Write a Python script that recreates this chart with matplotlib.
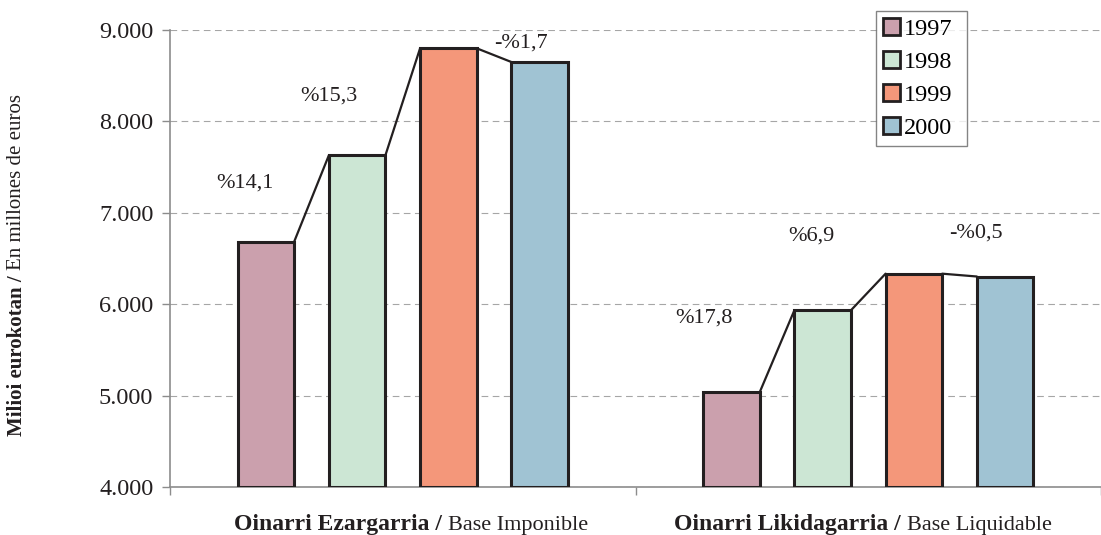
import numpy as np
import matplotlib
matplotlib.use("Agg")
import matplotlib.pyplot as plt
from matplotlib.patches import Patch

# Data
years = ["1997", "1998", "1999", "2000"]
groups_bold = ["Oinarri Ezargarria", "Oinarri Likidagarria"]
groups_norm = ["Base Imponible", "Base Liquidable"]
base_imponible = [6684, 7629, 8800, 8650]
base_liquidable = [5036, 5933, 6334, 6303]
pct_imponible = ["%14,1", "%15,3", "-%1,7"]
pct_liquidable = ["%17,8", "%6,9", "-%0,5"]
yticks = [4000, 5000, 6000, 7000, 8000, 9000]
ytick_labels = ["4.000", "5.000", "6.000", "7.000", "8.000", "9.000"]

# Style
colors = ["#cba0ad", "#cce6d4", "#f4977a", "#a0c3d3"]
edge = "#231f20"
grid_color = "#a6a6a6"
spine_color = "#8c8c8c"
plt.rcParams["font.family"] = ["Liberation Serif", "DejaVu Serif"]

# label positions (offsets from group centre, in category units) and heights
pct_pos = [
    [(-0.339, 7326), (-0.159, 8281), (0.253, 8854)],
    [(-0.353, 5846), (-0.1215, 6746), (0.232, 6776)],
]
# where the bold part of each category label ends (offset from group centre)
split_pos = [0.098, 0.083]

fig = plt.figure(figsize=(11.01, 5.35), dpi=100)
ax = fig.add_axes([170 / 1101, 48 / 535, 931 / 1101, 457 / 535])

width = 0.1215
offsets = np.array([-1.5, -0.5, 0.5, 1.5]) * 0.196
series = [base_imponible, base_liquidable]
pcts = [pct_imponible, pct_liquidable]

for g, vals in enumerate(series):
    xs = g + offsets
    for i, (x, v) in enumerate(zip(xs, vals)):
        ax.bar(x, v - 4000, bottom=4000, width=width, color=colors[i],
               edgecolor=edge, linewidth=2.2, zorder=3)
    # connector from top-right of one bar to top-left of the next
    for i in range(len(vals) - 1):
        ax.plot([xs[i] + width / 2, xs[i + 1] - width / 2], [vals[i], vals[i + 1]],
                color=edge, linewidth=1.6, zorder=4, solid_capstyle="round")
    for txt, (dx, y) in zip(pcts[g], pct_pos[g]):
        ax.text(g + dx, y, txt, ha="center", va="center", fontsize=16, color="#231f20")

ax.set_xlim(-0.5, -0.5 + 931 / 469)
ax.set_ylim(4000, 9000)
ax.set_yticks(yticks)
ax.set_yticklabels(ytick_labels, fontsize=17.5, color="#231f20")
ax.set_xticks([-0.5, 0.5, 1.5])
ax.set_xticklabels([])
ax.tick_params(axis="y", direction="out", length=6, width=1, color=spine_color, pad=6)
ax.tick_params(axis="x", direction="out", length=6, width=1, color=spine_color)

ax.yaxis.grid(True, linestyle=(0, (6, 4)), color=grid_color, linewidth=0.8, zorder=0)
ax.set_axisbelow(True)
for s in ["top", "right"]:
    ax.spines[s].set_visible(False)
for s in ["left", "bottom"]:
    ax.spines[s].set_color(spine_color)
    ax.spines[s].set_linewidth(1.2)

# Category labels: bold part followed by regular part
xt = ax.get_xaxis_transform()
for g in range(2):
    t1 = ax.text(g + split_pos[g], -0.082, groups_bold[g] + " / ", transform=xt,
                 ha="right", va="center", fontsize=17, fontweight="bold", color="#231f20")
    ax.annotate(groups_norm[g], xy=(1, 0), xycoords=t1, ha="left", va="bottom",
                fontsize=16, color="#231f20")

# Y label: bold part followed by regular part, rotated
fig.text(17 / 1101, 1 - 270 / 535, "Milioi eurokotan / ", rotation=90, ha="center", va="top",
         fontsize=15, fontweight="bold", color="#231f20")
fig.text(17 / 1101, 1 - 270 / 535, "En millones de euros", rotation=90, ha="center", va="bottom",
         fontsize=15, color="#231f20")

handles = [Patch(facecolor=c, edgecolor=edge, linewidth=2) for c in colors]
leg = ax.legend(handles, years, loc="upper left",
                bbox_to_anchor=(876 / 1101, 1 - 147 / 535, 91 / 1101, 136 / 535),
                bbox_transform=fig.transFigure, mode="expand", fontsize=17.5, frameon=True,
                fancybox=False, handlelength=0.7, handleheight=0.7, handletextpad=0.15,
                labelspacing=0.45, borderpad=0.3, borderaxespad=0)
leg.get_frame().set_edgecolor("#666666")
leg.get_frame().set_linewidth(1)

fig.savefig("out.png", dpi=100)
